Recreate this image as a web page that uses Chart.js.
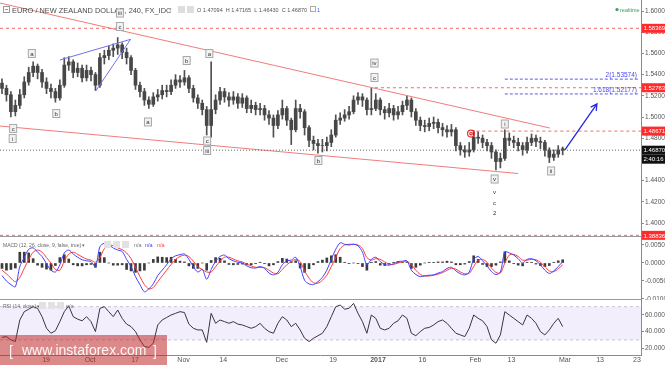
<!DOCTYPE html>
<html><head><meta charset="utf-8">
<script src="https://cdn.jsdelivr.net/npm/chart.js@4.4.1/dist/chart.umd.min.js"></script>
<style>
html,body{margin:0;padding:0;background:#fff;}
#wrap{position:relative;width:665px;height:365px;overflow:hidden;background:#fff;}
canvas{position:absolute;left:0;}
</style></head><body>
<div id="wrap">
<canvas id="price" width="665" height="237" style="top:0"></canvas>
<canvas id="macd" width="665" height="63" style="top:237px"></canvas>
<canvas id="rsi" width="665" height="65" style="top:300px"></canvas>
</div>
<script>
// one candle per trading day, index 0 ~ early Sept 2016
const tickPos  = [9.9, 19.8, 29.9, 40.8, 49.7, 62.9, 74.4, 84.5, 94.5, 106.4, 114.5, 126.5, 134.4, 142.7];
const tickText = ['19', 'Oct', '17', 'Nov', '14', 'Dec', '19', '2017', '16', 'Feb', '13', 'Mar', '13', '23'];

const opens = [1.532,1.527,1.521,1.505,1.511,1.521,1.533,1.542,1.548,1.542,
 1.533,1.527,1.524,1.518,1.530,1.549,1.552,1.542,1.546,1.537,
 1.544,1.540,1.530,1.556,1.558,1.563,1.565,1.568,1.561,1.556,
 1.544,1.530,1.524,1.516,1.512,1.519,1.521,1.525,1.524,1.530,
 1.535,1.533,1.537,1.527,1.518,1.513,1.507,1.492,1.507,1.516,
 1.524,1.519,1.516,1.519,1.513,1.518,1.508,1.511,1.507,1.508,
 1.502,1.499,1.492,1.502,1.508,1.497,1.488,1.508,1.505,1.490,
 1.478,1.475,1.473,1.473,1.476,1.483,1.497,1.499,1.502,1.505,
 1.516,1.519,1.516,1.507,1.508,1.516,1.507,1.504,1.508,1.502,
 1.505,1.511,1.516,1.505,1.497,1.492,1.491,1.494,1.495,1.490,
 1.488,1.486,1.488,1.473,1.469,1.467,1.469,1.481,1.480,1.476,
 1.473,1.467,1.458,1.461,1.480,1.478,1.476,1.473,1.469,1.476,
 1.480,1.477,1.476,1.469,1.462,1.465,1.4700];
const closes = [1.527,1.521,1.505,1.511,1.521,1.533,1.542,1.548,1.542,1.533,
 1.527,1.524,1.518,1.530,1.549,1.552,1.542,1.546,1.537,1.544,
 1.540,1.530,1.556,1.558,1.563,1.565,1.568,1.561,1.556,1.544,
 1.530,1.524,1.516,1.512,1.519,1.521,1.525,1.524,1.530,1.535,
 1.533,1.537,1.527,1.518,1.513,1.507,1.492,1.507,1.516,1.524,
 1.519,1.516,1.519,1.513,1.518,1.508,1.511,1.507,1.508,1.502,
 1.499,1.492,1.502,1.508,1.497,1.488,1.508,1.505,1.490,1.478,
 1.475,1.473,1.473,1.476,1.483,1.497,1.499,1.502,1.505,1.516,
 1.519,1.516,1.507,1.508,1.516,1.507,1.504,1.508,1.502,1.505,
 1.511,1.516,1.505,1.497,1.492,1.491,1.494,1.495,1.490,1.488,
 1.486,1.488,1.473,1.469,1.467,1.469,1.481,1.480,1.476,1.473,
 1.467,1.458,1.461,1.480,1.478,1.476,1.473,1.469,1.476,1.480,
 1.477,1.476,1.469,1.462,1.465,1.469,1.4687];
const highs = [1.536,1.530,1.524,1.516,1.526,1.538,1.547,1.552,1.550,1.545,
 1.537,1.531,1.527,1.535,1.556,1.557,1.554,1.551,1.549,1.549,
 1.547,1.542,1.560,1.563,1.567,1.569,1.575,1.570,1.565,1.558,
 1.546,1.533,1.527,1.519,1.523,1.526,1.530,1.530,1.535,1.540,
 1.539,1.544,1.539,1.530,1.521,1.516,1.510,1.552,1.521,1.528,
 1.527,1.523,1.524,1.522,1.522,1.520,1.516,1.514,1.513,1.511,
 1.506,1.502,1.506,1.516,1.510,1.499,1.516,1.512,1.507,1.492,
 1.482,1.479,1.479,1.481,1.488,1.502,1.504,1.507,1.510,1.520,
 1.523,1.522,1.518,1.527,1.522,1.518,1.510,1.513,1.511,1.510,
 1.515,1.520,1.518,1.508,1.500,1.497,1.499,1.500,1.498,1.494,
 1.492,1.493,1.490,1.476,1.473,1.476,1.487,1.486,1.483,1.479,
 1.476,1.469,1.466,1.488,1.485,1.482,1.480,1.476,1.481,1.484,
 1.483,1.481,1.478,1.471,1.469,1.473,1.4717];
const lows = [1.522,1.515,1.500,1.501,1.508,1.518,1.530,1.538,1.536,1.528,
 1.522,1.518,1.514,1.516,1.528,1.544,1.537,1.538,1.533,1.534,
 1.534,1.525,1.528,1.550,1.554,1.557,1.559,1.555,1.550,1.540,
 1.526,1.519,1.511,1.508,1.510,1.515,1.517,1.519,1.521,1.527,
 1.528,1.530,1.523,1.514,1.508,1.502,1.483,1.481,1.503,1.512,
 1.514,1.510,1.512,1.508,1.509,1.504,1.504,1.502,1.502,1.497,
 1.493,1.481,1.489,1.498,1.492,1.474,1.486,1.499,1.483,1.472,
 1.469,1.466,1.467,1.468,1.472,1.481,1.493,1.496,1.498,1.503,
 1.512,1.510,1.502,1.502,1.506,1.502,1.498,1.500,1.497,1.498,
 1.502,1.507,1.500,1.492,1.487,1.486,1.487,1.489,1.485,1.482,
 1.481,1.482,1.468,1.464,1.462,1.463,1.467,1.475,1.471,1.468,
 1.461,1.450,1.452,1.459,1.473,1.471,1.468,1.464,1.466,1.473,
 1.472,1.470,1.463,1.457,1.459,1.462,1.4643];

const macdLine = [-0.0035,-0.0050,-0.0060,-0.0066,-0.0010,0.0015,0.0038,0.0042,0.0030,0.0018,
 -0.0002,-0.0020,-0.0025,-0.0005,0.0028,0.0036,0.0025,0.0016,0.0009,0.0006,
 0.0004,-0.0010,0.0045,0.0055,0.0050,0.0042,0.0036,0.0032,0.0010,-0.0010,
 -0.0038,-0.0060,-0.0080,-0.0072,-0.0058,-0.0035,-0.0020,-0.0005,0.0012,0.0020,
 0.0023,0.0025,0.0010,-0.0010,-0.0025,-0.0018,-0.0045,-0.0018,0.0005,0.0018,
 0.0022,0.0012,0.0006,0.0002,0.0000,-0.0008,-0.0013,-0.0014,-0.0010,-0.0015,
 -0.0028,-0.0033,-0.0026,-0.0005,0.0006,0.0008,0.0016,-0.0010,-0.0048,-0.0058,
 -0.0060,-0.0052,-0.0040,-0.0020,0.0010,0.0038,0.0056,0.0052,0.0050,0.0052,
 0.0048,0.0030,-0.0005,0.0010,0.0016,0.0004,-0.0004,-0.0006,-0.0002,0.0004,
 0.0005,0.0006,-0.0020,-0.0032,-0.0038,-0.0036,-0.0034,-0.0033,-0.0028,-0.0024,
 -0.0015,-0.0012,-0.0022,-0.0030,-0.0033,-0.0025,0.0010,0.0018,0.0006,-0.0008,
 -0.0024,-0.0032,-0.0025,0.0031,0.0028,0.0022,0.0012,0.0000,0.0010,0.0012,
 0.0006,-0.0005,-0.0020,-0.0029,-0.0022,-0.0010,0.0004];
const signalLine = [-0.0020,-0.0030,-0.0042,-0.0052,-0.0040,-0.0015,0.0010,0.0030,0.0036,0.0030,
 0.0015,0.0000,-0.0018,-0.0020,0.0005,0.0025,0.0030,0.0024,0.0017,0.0011,
 0.0008,0.0002,0.0015,0.0040,0.0050,0.0048,0.0042,0.0037,0.0028,0.0012,
 -0.0012,-0.0038,-0.0060,-0.0072,-0.0068,-0.0052,-0.0036,-0.0020,-0.0004,0.0010,
 0.0018,0.0022,0.0018,0.0005,-0.0010,-0.0018,-0.0025,-0.0025,-0.0010,0.0005,
 0.0016,0.0016,0.0011,0.0006,0.0003,-0.0003,-0.0008,-0.0012,-0.0012,-0.0013,
 -0.0020,-0.0028,-0.0030,-0.0018,-0.0005,0.0004,0.0010,0.0004,-0.0022,-0.0042,
 -0.0055,-0.0056,-0.0048,-0.0034,-0.0010,0.0015,0.0040,0.0050,0.0052,0.0052,
 0.0050,0.0040,0.0015,0.0008,0.0012,0.0010,0.0003,-0.0003,-0.0004,0.0000,
 0.0003,0.0005,-0.0005,-0.0020,-0.0032,-0.0036,-0.0036,-0.0034,-0.0031,-0.0027,
 -0.0020,-0.0015,-0.0017,-0.0025,-0.0030,-0.0029,-0.0010,0.0008,0.0010,0.0002,
 -0.0014,-0.0026,-0.0028,0.0000,0.0022,0.0024,0.0018,0.0008,0.0008,0.0010,
 0.0009,0.0002,-0.0010,-0.0022,-0.0024,-0.0016,-0.0005];
const macdHist = [-0.0015,-0.0020,-0.0018,-0.0014,0.0030,0.0030,0.0028,0.0012,-0.0006,-0.0012,
 -0.0017,-0.0020,-0.0007,0.0015,0.0023,0.0011,-0.0005,-0.0008,-0.0008,-0.0005,
 -0.0004,-0.0012,0.0030,0.0015,0.0000,-0.0006,-0.0006,-0.0005,-0.0018,-0.0022,
 -0.0026,-0.0022,-0.0020,0.0000,0.0010,0.0017,0.0016,0.0015,0.0016,0.0010,
 0.0005,0.0003,-0.0008,-0.0015,-0.0015,0.0000,-0.0020,0.0007,0.0015,0.0013,
 0.0006,-0.0004,-0.0005,-0.0004,-0.0003,-0.0005,-0.0005,-0.0002,0.0002,-0.0002,
 -0.0008,-0.0005,0.0004,0.0013,0.0011,0.0004,0.0006,-0.0014,-0.0026,-0.0016,
 -0.0005,0.0004,0.0008,0.0014,0.0020,0.0023,0.0016,0.0002,-0.0002,0.0000,
 -0.0002,-0.0010,-0.0020,0.0002,0.0004,-0.0006,-0.0007,-0.0003,0.0002,0.0004,
 0.0002,0.0001,-0.0015,-0.0012,-0.0006,0.0000,0.0002,0.0001,0.0003,0.0003,
 0.0005,0.0003,-0.0005,-0.0005,-0.0003,0.0004,0.0020,0.0010,-0.0004,-0.0010,
 -0.0010,-0.0006,0.0003,0.0031,0.0006,-0.0002,-0.0006,-0.0008,0.0002,0.0002,
 -0.0003,-0.0007,-0.0010,-0.0007,0.0002,0.0006,0.0009];
const rsiLine = [33,34,30,28,54,64,67,70,68,58,
 44,38,41,52,64,71,58,55,53,58,
 52,40,68,70,64,58,66,56,49,46,
 40,30,22,21,26,48,54,57,60,62,
 64,63,49,44,42,42,27,62,50,54,
 52,50,52,49,48,46,44,46,50,44,
 40,38,50,58,54,46,50,42,32,28,
 32,35,38,46,58,70,72,67,68,74,
 62,52,38,60,56,44,42,44,50,53,
 60,56,38,35,40,44,45,48,52,54,
 50,44,38,36,34,44,60,56,53,46,
 30,26,36,64,60,56,52,48,60,56,
 50,40,36,42,50,56,46];

// drawn objects, in (day index, price)
const upperTrend = [[-0.45, 1.6075], [123.1, 1.4896]];
const lowerTrend = [[-0.45, 1.4915], [116.0, 1.4467]];
const diagUpper = [[13.0, 1.5538], [28.9, 1.5733]];
const diagLower = [[21.1, 1.5248], [28.9, 1.5733]];
const arrowPath = [[126.5, 1.4689], [133.7, 1.5123]];
const redLevels = [1.58369, 1.52763, 1.48671, 1.38836];
const redLevelStart = [-0.45, 83.8, 106.6, -0.45];
const fibLevels = [1.53574, 1.52177];
const fibText = ['2(1.53574)', '1.618(1.52177)'];
const fibStart = 113.0;
const lastPrice = 1.46870;
const countdown = '2:40:16';
const markerPos = [105.4, 1.4844];
const waveLabels = [
  ['iii', 26.5, 1.5981, true], ['c', 26.5, 1.5854, true], ['a', 6.7, 1.5599, true],
  ['b', 12.2, 1.5033, true], ['c', 2.5, 1.4892, true], ['i', 2.4, 1.4797, true],
  ['a', 32.8, 1.4953, true], ['b', 41.5, 1.5533, true], ['a', 46.6, 1.5599, true],
  ['c', 46.1, 1.4774, true], ['iii', 46.1, 1.4684, true], ['b', 71.1, 1.4590, true],
  ['iv', 83.7, 1.5509, true], ['c', 83.7, 1.5373, true], ['i', 113.0, 1.4934, true],
  ['v', 110.7, 1.4415, true], ['v', 110.7, 1.4292, false], ['c', 110.7, 1.4193, false],
  ['2', 110.7, 1.4094, false], ['ii', 123.4, 1.4491, true]
];
const priceTicks = [1.40, 1.42, 1.44, 1.46, 1.48, 1.50, 1.52, 1.54, 1.56, 1.58, 1.60];
const macdTicks = [0.005, 0, -0.005, -0.01];
const rsiTicks = [20, 40, 60];

const FONT = "'Liberation Sans', Arial, sans-serif";
const xMin = -0.45, xMax = 143.6;
const idx = closes.map((c, i) => i);

function xScale() {
  return { type: 'linear', min: xMin, max: xMax, offset: false, display: false };
}
function yScale(min, max, ticks, digits) {
  return {
    type: 'linear', position: 'right', min: min, max: max,
    grid: { drawOnChartArea: false, tickLength: 3, color: '#8a8a8a' },
    border: { display: true, color: '#8a8a8a' },
    afterBuildTicks: s => { s.ticks = ticks.map(v => ({ value: v })); },
    afterFit: s => { s.width = 24; s.paddingTop = 0; s.paddingBottom = 0; },
    ticks: { padding: 1, color: '#555', font: { family: FONT, size: 6.5 }, callback: v => v.toFixed(digits) }
  };
}
function seg(pts, color, dash, width) {
  return {
    type: 'line', data: pts.map(p => ({ x: p[0], y: p[1] })), borderColor: color,
    borderWidth: width || 1, borderDash: dash || [], pointRadius: 0, fill: false
  };
}
function box(ctx, x, y, text, bg, fg) {
  ctx.fillStyle = bg;
  ctx.fillRect(x, y - 4.5, 665 - x, 9);
  ctx.fillStyle = fg;
  ctx.font = '6px ' + FONT;
  ctx.textAlign = 'left'; ctx.textBaseline = 'middle';
  ctx.fillText(text, x + 1.5, y + 0.5);
}

const priceSets = [];
redLevels.forEach((v, i) => priceSets.push(seg([[redLevelStart[i], v], [xMax, v]], '#f46a6a', [3, 3])));
fibLevels.forEach(v => priceSets.push(seg([[fibStart, v], [xMax - 0.3, v]], '#5a5af2', [3, 2])));
priceSets.push(seg([[xMin, lastPrice], [xMax, lastPrice]], '#6a6a6a', [1, 2]));
priceSets.push(seg(upperTrend, '#f07c7c'));
priceSets.push(seg(lowerTrend, '#f07c7c'));
priceSets.push(seg(diagUpper, '#7070ee'));
priceSets.push(seg(diagLower, '#7070ee'));
priceSets.push({
  type: 'bar', grouped: false, barThickness: 3, backgroundColor: '#474747',
  data: idx.map(i => ({ x: i, y: [opens[i], closes[i]] }))
});
priceSets.push({
  type: 'bar', grouped: false, barThickness: 1, backgroundColor: '#505050',
  data: idx.map(i => ({ x: i, y: [lows[i], highs[i]] }))
});

const priceDeco = {
  id: 'priceDeco',
  afterDraw(chart) {
    const { ctx, scales: { x, y }, chartArea: a } = chart;
    ctx.save();
    ctx.strokeStyle = '#9a9a9a'; ctx.lineWidth = 1;
    ctx.beginPath(); ctx.moveTo(0, a.bottom - 0.5); ctx.lineTo(a.right, a.bottom - 0.5); ctx.stroke();

    // forecast arrow
    const x0 = x.getPixelForValue(arrowPath[0][0]), y0 = y.getPixelForValue(arrowPath[0][1]);
    const x1 = x.getPixelForValue(arrowPath[1][0]), y1 = y.getPixelForValue(arrowPath[1][1]);
    const ang = Math.atan2(y1 - y0, x1 - x0);
    ctx.strokeStyle = '#2626e6'; ctx.lineWidth = 1.3;
    ctx.beginPath(); ctx.moveTo(x0, y0); ctx.lineTo(x1, y1);
    ctx.moveTo(x1 - 7 * Math.cos(ang - 0.5), y1 - 7 * Math.sin(ang - 0.5)); ctx.lineTo(x1, y1);
    ctx.lineTo(x1 - 7 * Math.cos(ang + 0.5), y1 - 7 * Math.sin(ang + 0.5));
    ctx.stroke();

    // header
    ctx.strokeStyle = '#999'; ctx.lineWidth = 1;
    ctx.strokeRect(3.5, 6.5, 6, 6);
    ctx.beginPath(); ctx.moveTo(5, 9.5); ctx.lineTo(8, 9.5); ctx.stroke();
    ctx.fillStyle = '#4a4a4a'; ctx.textAlign = 'left'; ctx.textBaseline = 'alphabetic';
    ctx.font = '7.4px ' + FONT;
    ctx.fillText('EURO / NEW ZEALAND DOLLAR, 240, FX_IDC', 12, 12.5);
    ctx.fillStyle = '#aaa'; ctx.font = '5px ' + FONT; ctx.fillText('\u25BE', 169, 11);
    ctx.fillStyle = '#dedede'; ctx.fillRect(178, 6, 7, 7); ctx.fillRect(187, 6, 7, 7);
    ctx.fillStyle = '#555'; ctx.font = '5.5px ' + FONT;
    ctx.fillText('O 1.47094  H 1.47165  L 1.46430  C 1.46870', 197, 11.5);
    ctx.strokeStyle = '#aaa'; ctx.strokeRect(310.5, 6.5, 5, 5);
    ctx.fillStyle = '#3a6ee8'; ctx.fillText('1', 317, 11.5);
    ctx.fillStyle = '#3c9a5f'; ctx.beginPath(); ctx.arc(617, 9.5, 1.6, 0, Math.PI * 2); ctx.fill();
    ctx.fillText('realtime', 620, 11.5);

    // fib texts
    ctx.fillStyle = '#4848f0'; ctx.font = '6.5px ' + FONT; ctx.textAlign = 'right';
    fibLevels.forEach((v, i) => ctx.fillText(fibText[i], 637, y.getPixelForValue(v) - 2));

    // marker circle
    const mx = x.getPixelForValue(markerPos[0]), my = y.getPixelForValue(markerPos[1]);
    ctx.strokeStyle = '#e83030'; ctx.lineWidth = 1.2;
    ctx.beginPath(); ctx.arc(mx, my, 3.5, 0, Math.PI * 2); ctx.stroke();
    ctx.beginPath(); ctx.arc(mx, my, 1.3, 0, Math.PI * 2); ctx.stroke();

    // wave labels
    ctx.font = '6px ' + FONT; ctx.textAlign = 'center'; ctx.textBaseline = 'middle';
    waveLabels.forEach(l => {
      const px = x.getPixelForValue(l[1]), py = y.getPixelForValue(l[2]);
      if (l[3]) {
        const w = Math.max(7, ctx.measureText(l[0]).width + 3);
        ctx.fillStyle = '#f2f2f2'; ctx.fillRect(px - w / 2, py - 4, w, 8);
        ctx.strokeStyle = '#a8a8a8'; ctx.lineWidth = 1; ctx.strokeRect(px - w / 2, py - 4, w, 8);
      }
      ctx.fillStyle = '#333'; ctx.fillText(l[0], px, py + 0.5);
    });

    // price axis boxes
    redLevels.forEach(v => box(ctx, 642, y.getPixelForValue(v), v.toFixed(5), '#ff2b2b', '#fff'));
    const lp = y.getPixelForValue(lastPrice);
    box(ctx, 642, lp, lastPrice.toFixed(5), '#111', '#fff');
    box(ctx, 642, lp + 9, countdown, '#111', '#fff');
    ctx.restore();
  }
};

const priceChart = new Chart(document.getElementById('price'), {
  type: 'bar',
  data: { datasets: priceSets },
  options: {
    responsive: false, animation: false, devicePixelRatio: 1,
    layout: { padding: 0 },
    plugins: { legend: { display: false }, tooltip: { enabled: false } },
    scales: { x: xScale(), y: yScale(1.3868, 1.6104, priceTicks, 5) }
  },
  plugins: [priceDeco]
});

const macdDeco = {
  id: 'macdDeco',
  afterDraw(chart) {
    const { ctx, chartArea: a } = chart;
    ctx.save();
    ctx.strokeStyle = '#9a9a9a'; ctx.lineWidth = 1;
    ctx.beginPath(); ctx.moveTo(0, a.bottom - 0.5); ctx.lineTo(a.right, a.bottom - 0.5); ctx.stroke();
    // lower part of the 1.38836 box that spills over the panel edge
    const lowLvl = redLevels[redLevels.length - 1];
    const spill = priceChart.scales.y.getPixelForValue(lowLvl) - priceChart.height;
    box(ctx, 642, spill, lowLvl.toFixed(5), '#ff2b2b', '#fff');
    ctx.font = '5px ' + FONT; ctx.textAlign = 'left'; ctx.textBaseline = 'alphabetic';
    ctx.fillStyle = '#666'; ctx.fillText('MACD (12, 26, close, 9, false, true) \u25BE', 3, 9.5);
    ctx.fillStyle = '#e2e2e2'; ctx.fillRect(104, 4, 7, 7); ctx.fillRect(113, 4, 7, 7); ctx.fillRect(122, 4, 7, 7);
    ctx.font = '5.5px ' + FONT;
    ctx.fillStyle = '#777'; ctx.fillText('n/a', 134, 9.5);
    ctx.fillStyle = '#4444ff'; ctx.fillText('n/a', 145, 9.5);
    ctx.fillStyle = '#ff4444'; ctx.fillText('n/a', 157, 9.5);
    ctx.restore();
  }
};

new Chart(document.getElementById('macd'), {
  type: 'bar',
  data: {
    datasets: [
      { type: 'line', data: idx.map(i => ({ x: i, y: macdLine[i] })), borderColor: '#4040ff', borderWidth: 1, pointRadius: 0, tension: 0.3 },
      { type: 'line', data: idx.map(i => ({ x: i, y: signalLine[i] })), borderColor: '#ff3a3a', borderWidth: 1, pointRadius: 0, tension: 0.3 },
      { type: 'bar', barThickness: 2, grouped: false, backgroundColor: '#3c3c3c', data: idx.map(i => ({ x: i, y: macdHist[i] })) }
    ]
  },
  options: {
    responsive: false, animation: false, devicePixelRatio: 1,
    layout: { padding: 0 },
    plugins: { legend: { display: false }, tooltip: { enabled: false } },
    scales: { x: xScale(), y: yScale(-0.01028, 0.00722, macdTicks, 5) }
  },
  plugins: [macdDeco]
});

const rsiDeco = {
  id: 'rsiDeco',
  beforeDatasetsDraw(chart) {
    const { ctx, chartArea: a, scales: { y } } = chart;
    const t = y.getPixelForValue(70), b = y.getPixelForValue(30);
    ctx.save();
    ctx.fillStyle = 'rgba(165,120,235,0.13)';
    ctx.fillRect(a.left, t, a.right - a.left, b - t);
    ctx.strokeStyle = '#c9bfd9'; ctx.setLineDash([3, 3]); ctx.lineWidth = 1;
    ctx.beginPath(); ctx.moveTo(a.left, t); ctx.lineTo(a.right, t); ctx.moveTo(a.left, b); ctx.lineTo(a.right, b); ctx.stroke();
    ctx.restore();
  },
  afterDraw(chart) {
    const { ctx, chartArea: a, scales: { x } } = chart;
    ctx.save();
    ctx.strokeStyle = '#8a8a8a'; ctx.lineWidth = 1;
    ctx.beginPath(); ctx.moveTo(0, a.bottom + 0.5); ctx.lineTo(a.right, a.bottom + 0.5); ctx.stroke();
    // time axis labels
    ctx.textAlign = 'center'; ctx.textBaseline = 'middle'; ctx.fillStyle = '#555';
    tickPos.forEach((v, i) => {
      ctx.font = (tickText[i] === '2017' ? 'bold ' : '') + '7px ' + FONT;
      ctx.fillText(tickText[i], x.getPixelForValue(v), a.bottom + 5.5);
    });
    ctx.font = '5px ' + FONT; ctx.textAlign = 'left'; ctx.textBaseline = 'alphabetic';
    ctx.fillStyle = '#666'; ctx.fillText('RSI (14, close) \u25BE', 3, 7.5);
    ctx.fillStyle = '#e2e2e2'; ctx.fillRect(39, 2, 7, 7); ctx.fillRect(48, 2, 7, 7); ctx.fillRect(57, 2, 7, 7);
    ctx.fillStyle = '#777'; ctx.font = '5.5px ' + FONT; ctx.fillText('n/a', 66, 7.5);
    // watermark
    ctx.fillStyle = 'rgba(190,40,40,0.55)';
    ctx.fillRect(0, 35, 167, 30);
    ctx.fillStyle = 'rgba(255,255,255,0.92)';
    ctx.font = '14px ' + FONT; ctx.textBaseline = 'middle';
    ctx.fillText('[', 9, 52);
    ctx.fillText('www.instaforex.com', 22, 51);
    ctx.fillText(']', 153, 52);
    ctx.restore();
  }
};

new Chart(document.getElementById('rsi'), {
  type: 'line',
  data: {
    datasets: [
      { data: idx.map(i => ({ x: i, y: rsiLine[i] })), borderColor: '#3b3344', borderWidth: 1, pointRadius: 0 }
    ]
  },
  options: {
    responsive: false, animation: false, devicePixelRatio: 1,
    layout: { padding: { bottom: 10 } },
    plugins: { legend: { display: false }, tooltip: { enabled: false } },
    scales: { x: xScale(), y: yScale(11.8, 78.07, rsiTicks, 4) }
  },
  plugins: [rsiDeco]
});
</script>
</body></html>
